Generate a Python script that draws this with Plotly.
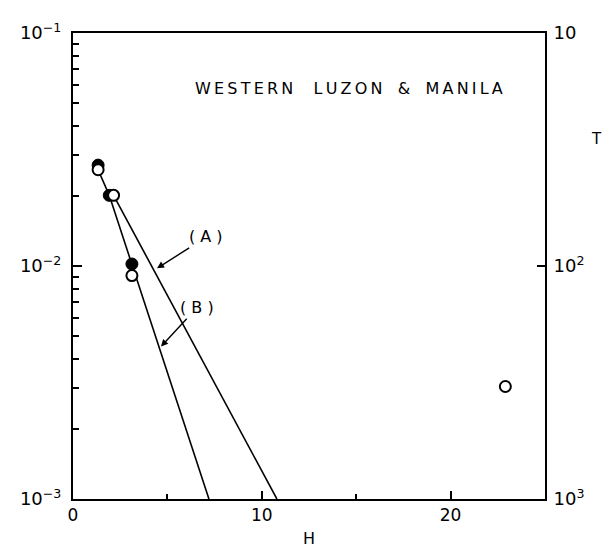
import plotly.graph_objects as go

# Data
filled_h = [1.33, 1.92, 3.12]
filled_p = [0.0271, 0.0201, 0.0102]
open_h = [1.33, 2.15, 3.12, 22.9]
open_p = [0.0259, 0.0201, 0.0091, 0.00304]

line_a_h = [2.15, 10.8]
line_a_p = [0.0201, 0.001]
line_b_h = [1.92, 7.2]
line_b_p = [0.0201, 0.001]
link_h = [1.33, 1.92]
link_p = [0.0259, 0.0201]

x_ticks = [0, 10, 20]
x_minor = [5, 15, 25]
y_ticks = [0.001, 0.01, 0.1]
y_ticktext = ["10<sup>−3</sup>", "10<sup>−2</sup>", "10<sup>−1</sup>"]
y_minor = [m * d for d in (0.001, 0.01) for m in range(2, 10)]
t_ticks = [10, 100, 1000]
t_ticktext = ["10", "10<sup>2</sup>", "10<sup>3</sup>"]

TS = "\u2009"
NB = "\u00a0"
title_text = (TS.join("WESTERN") + NB * 4 + TS.join("LUZON") + NB * 3 + "&" + NB * 3
              + TS.join("MANILA"))

FONT = "DejaVu Sans"
fig = go.Figure()

ln = dict(color="black", width=1.6)
fig.add_trace(go.Scatter(x=line_a_h, y=line_a_p, mode="lines", line=ln, showlegend=False))
fig.add_trace(go.Scatter(x=line_b_h, y=line_b_p, mode="lines", line=ln, showlegend=False))
fig.add_trace(go.Scatter(x=link_h, y=link_p, mode="lines", line=ln, showlegend=False))
fig.add_trace(go.Scatter(x=filled_h, y=filled_p, mode="markers",
                         marker=dict(size=12, color="black", line=dict(color="black", width=1)),
                         showlegend=False))
fig.add_trace(go.Scatter(x=open_h, y=open_p, mode="markers",
                         marker=dict(size=11, color="white", line=dict(color="black", width=2)),
                         showlegend=False))
fig.add_trace(go.Scatter(x=[0], y=[100], yaxis="y2", mode="markers",
                         marker=dict(opacity=0), showlegend=False, hoverinfo="skip"))

arrow = dict(showarrow=True, arrowhead=2, arrowsize=1, arrowwidth=1.4, arrowcolor="black",
             xref="x", yref="y", axref="x", ayref="y", font=dict(size=16), standoff=0)

fig.update_layout(
    width=606, height=549,
    margin=dict(l=49, r=69, t=19, b=50),
    paper_bgcolor="white", plot_bgcolor="white",
    font=dict(family=FONT, color="black", size=16),
    xaxis=dict(range=[0, 25], tickvals=x_ticks, ticktext=[str(v) for v in x_ticks],
               ticks="inside", ticklen=8, tickwidth=1.5, tickcolor="black",
               showline=True, linecolor="black", linewidth=2, mirror=True,
               showgrid=False, zeroline=False,
               minor=dict(tickvals=x_minor, ticks="inside", ticklen=5, tickcolor="black", showgrid=False),
               title=dict(text="H", font=dict(size=16), standoff=8),
               tickfont=dict(size=17)),
    yaxis=dict(type="log", range=[-3, -1], tickvals=y_ticks, ticktext=y_ticktext,
               ticks="inside", ticklen=9, tickwidth=1.5, tickcolor="black",
               showline=True, linecolor="black", linewidth=2,
               showgrid=False, zeroline=False, ticklabelstandoff=6,
               minor=dict(tickvals=y_minor, ticks="inside", ticklen=6, tickcolor="black", showgrid=False),
               tickfont=dict(size=18)),
    yaxis2=dict(type="log", range=[3, 1], overlaying="y", side="right",
                tickvals=t_ticks, ticktext=t_ticktext,
                ticks="inside", ticklen=8, tickwidth=1.5, tickcolor="black",
                showline=True, linecolor="black", linewidth=2, ticklabelstandoff=3,
                showgrid=False, zeroline=False, tickfont=dict(size=18)),
    annotations=[
        dict(text=title_text, xref="paper", yref="paper",
             x=0.584, y=0.906, showarrow=False, font=dict(size=16)),
        dict(text="T", xref="paper", yref="paper", x=1.125, y=0.797,
             showarrow=False, font=dict(size=15)),
        dict(text="( A )", x=4.45, y=-2.01, ax=7.07, ay=-1.875, **arrow),
        dict(text="( B )", x=4.66, y=-2.346, ax=6.56, ay=-2.179, **arrow),
    ],
)
fig.write_html("out.html")
